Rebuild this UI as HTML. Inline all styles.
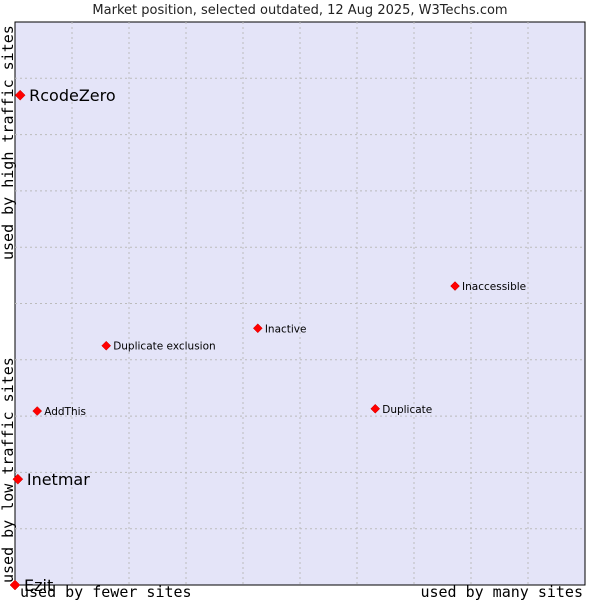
<!DOCTYPE html>
<html><head><meta charset="utf-8"><style>
body{margin:0;background:#fff;width:600px;height:600px;overflow:hidden}
svg{display:block;font-family:"DejaVu Sans","Liberation Sans",sans-serif}
</style></head><body>
<svg id="c" width="600" height="600">
<text x="300" y="14" text-anchor="middle" font-size="13" fill="#222">Market position, selected outdated, 12 Aug 2025, W3Techs.com</text>
<rect x="15" y="22" width="570" height="563" fill="#e4e4f8" stroke="#000" stroke-width="1"/>
<g id="grid"></g>
<g id="pts"></g>
<text x="20" y="597" font-family="DejaVu Sans Mono,Liberation Mono,monospace" font-size="15" fill="#000">used by fewer sites</text>
<text x="583" y="597" text-anchor="end" font-family="DejaVu Sans Mono,Liberation Mono,monospace" font-size="15" fill="#000">used by many sites</text>
<text transform="translate(13,583) rotate(-90)" font-family="DejaVu Sans Mono,Liberation Mono,monospace" font-size="15" fill="#000">used by low traffic sites</text>
<text transform="translate(13,260) rotate(-90)" font-family="DejaVu Sans Mono,Liberation Mono,monospace" font-size="15" fill="#000">used by high traffic sites</text>
</svg>
<script>
const names=["RcodeZero","Inetmar","Ezit","AddThis","Duplicate exclusion","Inactive","Inaccessible","Duplicate"];
const xs=[0.9,0.5,0,3.9,16.0,42.6,77.2,63.2];
const ys=[87.0,18.8,0,30.9,42.5,45.6,53.1,31.3];
const big=[true,true,true,false,false,false,false,false];
const L=15,R=585,T=22,B=585;
const sx=v=>L+v/100*(R-L), sy=v=>B-v/100*(B-T);
const ns="http://www.w3.org/2000/svg";
const g=document.getElementById('grid'),p=document.getElementById('pts');
for(let i=1;i<10;i++){
 const l=document.createElementNS(ns,'line');
 
 
 const x=sx(i*10);l.setAttribute('x1',x);l.setAttribute('x2',x);l.setAttribute('y1',T);l.setAttribute('y2',B);
 l.setAttribute('stroke','#bbb');l.setAttribute('stroke-dasharray','2,3');g.appendChild(l);
 const h=document.createElementNS(ns,'line');
 
 
 const y=sy(i*10);h.setAttribute('x1',L);h.setAttribute('x2',R);h.setAttribute('y1',y);h.setAttribute('y2',y);
 h.setAttribute('stroke','#bbb');h.setAttribute('stroke-dasharray','2,3');g.appendChild(h);
}
names.forEach((n,i)=>{
 const x=sx(xs[i]),y=sy(ys[i]);
 const d=document.createElementNS(ns,'path');
 
 
 const r=big[i]?5:4.5;
 d.setAttribute('d',`M${x-r},${y}L${x},${y-r}L${x+r},${y}L${x},${y+r}Z`);
 d.setAttribute('fill','#f00');d.setAttribute('stroke','#c00');d.setAttribute('stroke-width','0.5');p.appendChild(d);
 const t=document.createElementNS(ns,'text');
 
 
 t.setAttribute('x',x+(big[i]?9:7));t.setAttribute('y',y+(big[i]?6:4));
 t.setAttribute('font-size',big[i]?16:10.5);t.setAttribute('fill','#000');t.textContent=n;p.appendChild(t);
});
</script>
</body></html>
